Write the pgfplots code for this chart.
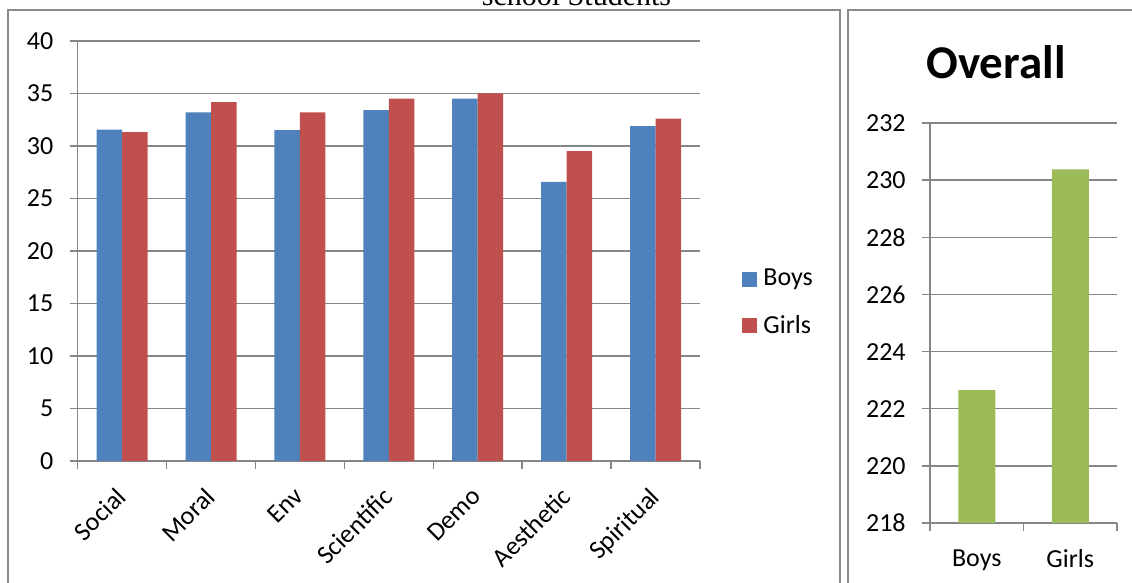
\documentclass[border=0pt]{standalone}
\usepackage{pgfplots}
\pgfplotsset{compat=1.18}
\usepackage{fontspec}
\setmainfont{Carlito}
\newfontfamily\titleserif{Liberation Serif}

\definecolor{boys}{HTML}{4F81BD}
\definecolor{girls}{HTML}{C0504D}
\definecolor{overall}{HTML}{9BBB59}
\definecolor{rule}{HTML}{868686}
\definecolor{frame}{HTML}{8C8C8C}

\newcommand{\lbl}{\fontsize{13}{15}\selectfont}

\pgfplotsset{
  excelaxis/.style={
    scale only axis,
    axis x line*=bottom,
    axis y line*=left,
    axis line style={rule, line width=0.75pt},
    ymajorgrids,
    grid style={rule, line width=0.75pt},
    tick align=outside,
    major tick length=4pt,
    tick style={rule, line width=0.75pt},
    /pgf/number format/assume math mode=true,
    ticklabel style={font=\lbl},
    yticklabel style={anchor=east, inner sep=0pt, xshift=-8pt},
  },
}

\begin{document}
\begin{tikzpicture}
\useasboundingbox (0pt,0pt) rectangle (566pt,291.5pt);

% panel frames
\draw[frame, line width=1pt] (4pt,-10pt) -- (4pt,286.5pt) -- (420pt,286.5pt) -- (420pt,-10pt);
\draw[frame, line width=1pt] (424pt,-10pt) -- (424pt,286.5pt) -- (575pt,286.5pt);

% cut-off heading of the left chart
\node[anchor=base, inner sep=0pt, font=\titleserif\fontsize{15}{18}\selectfont]
  at (288.25pt,288.5pt) {school Students};

% values by dimension
\begin{axis}[
  excelaxis,
  at={(38.85pt,61pt)}, anchor=south west,
  width=311.15pt, height=210pt,
  ymin=0, ymax=40, ytick={0,5,...,40},
  xmin=-0.5, xmax=6.5,
  xtick={-0.5,0.5,...,6.5},
  xticklabels={},
  extra x ticks={0,1,...,6},
  extra x tick labels={Social,Moral,Env,Scientific,Demo,Aesthetic,Spiritual},
  extra x tick style={major tick length=0pt,
    xticklabel style={xshift=-3.6pt, yshift=-12.3pt, rotate=45,
                      anchor=north east, inner sep=0pt}},
  ybar=0pt, bar width=12.75pt,
  legend style={draw=none, fill=none, at={(1.0675,0.377)}, anchor=west,
                font=\lbl, row sep=10pt, inner sep=0pt,
                nodes={inner sep=1.5pt}},
  legend cell align=left,
  legend image code/.code={\fill[#1] (0pt,-3.75pt) rectangle (7.5pt,3.75pt);
                           \path (7.5pt,0pt) -- (9pt,0pt);},
]
\addplot[fill=boys, draw=none] coordinates
  {(0,31.55) (1,33.2) (2,31.5) (3,33.42) (4,34.5) (5,26.58) (6,31.9)};
\addplot[fill=girls, draw=none] coordinates
  {(0,31.33) (1,34.18) (2,33.2) (3,34.5) (4,35.0) (5,29.52) (6,32.6)};
\legend{Boys,Girls}
\end{axis}

% overall score
\node[font=\bfseries\fontsize{23.5}{28}\selectfont, inner sep=0pt] at (498pt,260.5pt) {Overall};

\begin{axis}[
  excelaxis,
  at={(465pt,30pt)}, anchor=south west,
  width=93.5pt, height=200pt,
  ymin=218, ymax=232, ytick={218,220,...,232},
  xmin=-0.5, xmax=1.5,
  xtick={-0.5,0.5,1.5},
  xticklabels={},
  extra x ticks={0,1},
  extra x tick labels={Boys,Girls},
  extra x tick style={major tick length=0pt,
    xticklabel style={anchor=north, inner sep=0pt, yshift=-13pt}},
  ybar=0pt, bar width=18.5pt,
]
\addplot[fill=overall, draw=none] coordinates {(0,222.65) (1,230.38)};
\end{axis}
\end{tikzpicture}
\end{document}
